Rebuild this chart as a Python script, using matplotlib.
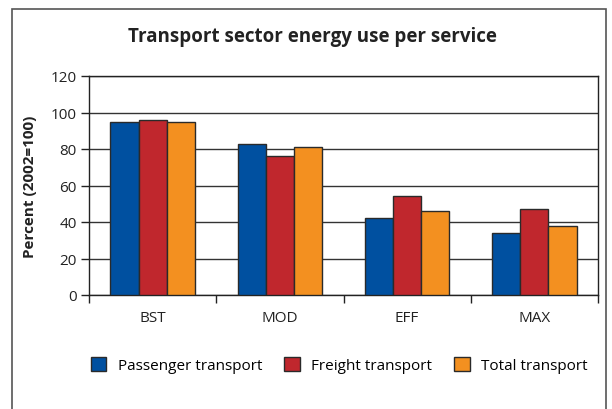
import matplotlib
matplotlib.use("Agg")
import matplotlib.pyplot as plt
import numpy as np
from matplotlib.patches import Rectangle

categories = ["BST", "MOD", "EFF", "MAX"]
series_names = ["Passenger transport", "Freight transport", "Total transport"]
passenger = [95, 83, 42, 34]
freight = [96, 76, 54, 47]
total = [95, 81, 46, 38]
yticks = [0, 20, 40, 60, 80, 100, 120]

colors = ["#0050a0", "#c0272d", "#f39020"]

plt.rcParams['font.family'] = ['Open Sans', 'DejaVu Sans']

fig = plt.figure(figsize=(6.12, 4.10), dpi=100)
W, H = 612, 410
ax = fig.add_axes([89 / W, 1 - 296 / H, (598 - 89) / W, (296 - 77) / H])

x = np.arange(len(categories))
bw = 0.222
for i, (vals, c, name) in enumerate(zip([passenger, freight, total], colors, series_names)):
    ax.bar(x + (i - 1) * bw, vals, width=bw, color=c, edgecolor="#2a2a2a",
           linewidth=1.0, label=name, zorder=3)

ax.set_xlim(-0.5, len(categories) - 0.5)
ax.set_ylim(0, 120)
ax.set_yticks(yticks)
ax.set_yticklabels([str(v) for v in yticks], fontsize=11, color="#222222")
ax.yaxis.grid(True, color="#333333", linewidth=1.0, zorder=0)
ax.set_axisbelow(True)

ax.set_xticks(x)
ax.set_xticklabels(categories, fontsize=11, color="#222222")
ax.tick_params(axis="x", length=0, pad=11)
ax.set_xticks(np.arange(-0.5, len(categories)), minor=True)
ax.tick_params(axis="x", which="minor", length=6, width=1.0, color="#222222", direction="out")
ax.tick_params(axis="y", length=6, width=1.0, color="#222222", direction="out", pad=3)
for s in ax.spines.values():
    s.set_color("#222222")
    s.set_linewidth(1.0)

ax.set_ylabel("Percent (2002=100)", fontsize=11, fontweight="bold", color="#222222")
ax.yaxis.set_label_coords(-(89 - 37) / (598 - 89), 0.5)

fig.text(312 / W, 1 - 37 / H, "Transport sector energy use per service",
         ha="center", va="center", fontsize=13.5, fontweight="bold", color="#222222")

leg = fig.legend(loc="center left", bbox_to_anchor=(91 / W, 1 - 366 / H), ncol=3,
                 frameon=False, fontsize=11, handlelength=1.0, handleheight=1.0,
                 columnspacing=1.45, handletextpad=0.75, borderpad=0, borderaxespad=0)

border = Rectangle((12 / W, -0.05), (606 - 12) / W, (1 - 10 / H) + 0.05,
                   transform=fig.transFigure, fill=False, edgecolor="#555555",
                   linewidth=1.2)
fig.patches.append(border)

fig.savefig("out.png", dpi=100)
